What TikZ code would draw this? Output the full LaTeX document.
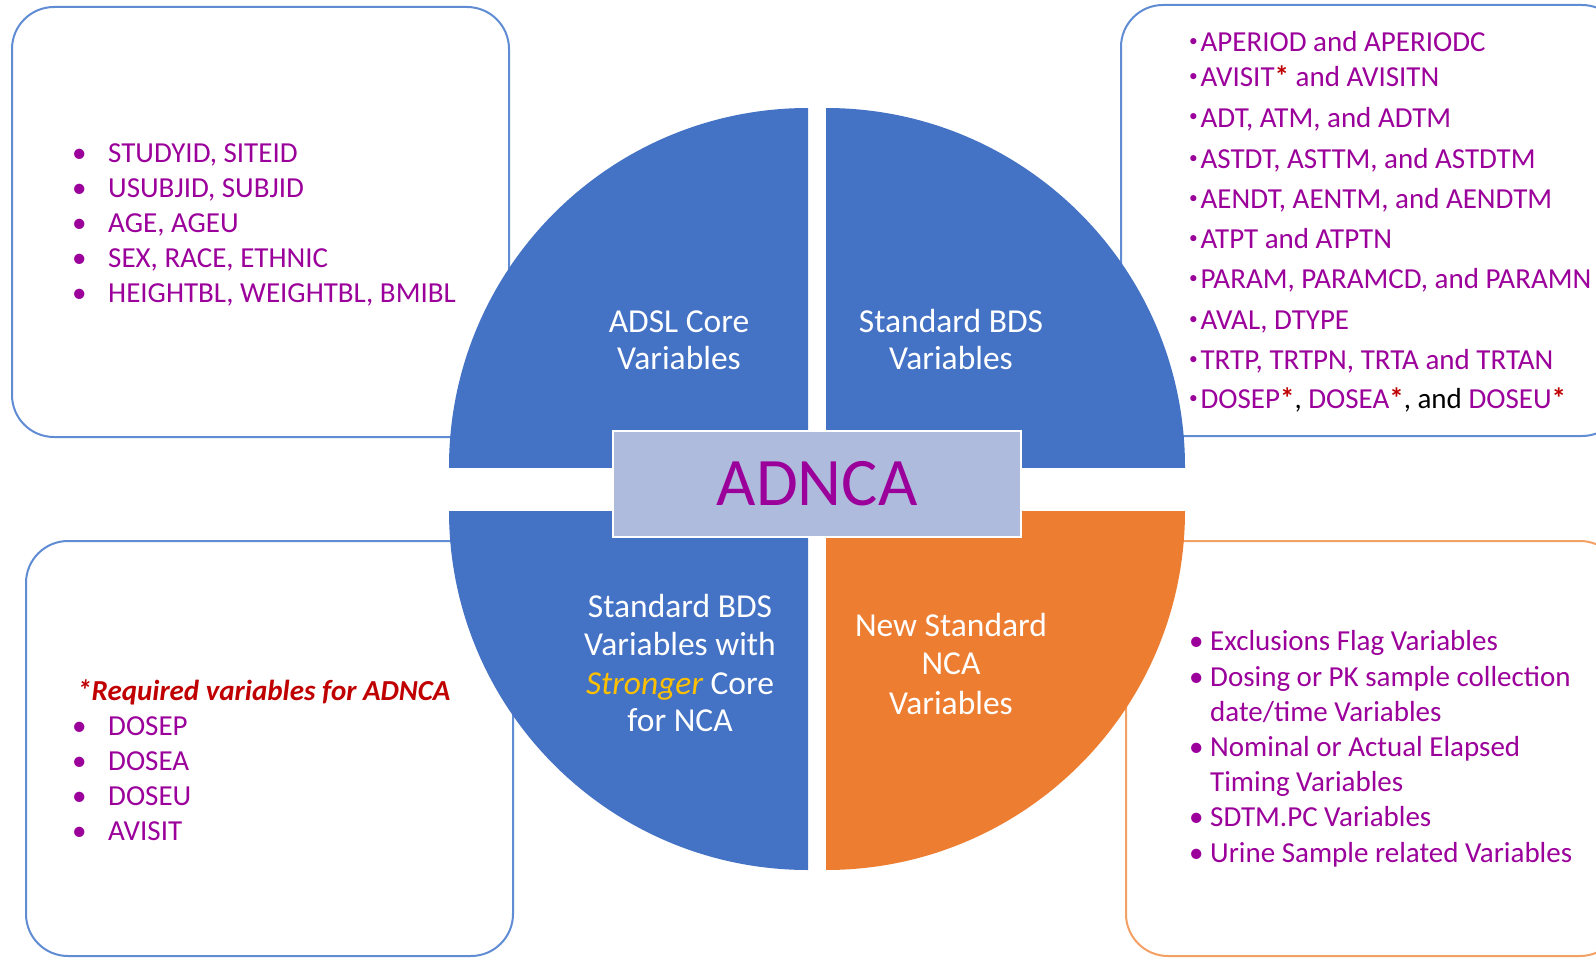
\documentclass[tikz,border=0pt]{standalone}
\usepackage{fontspec}
\usepackage{graphicx}
\setmainfont{Carlito}
\definecolor{qblue}{RGB}{68,114,196}
\definecolor{qorange}{RGB}{237,125,49}
\definecolor{lineblue}{RGB}{96,140,212}
\definecolor{lineorange}{RGB}{243,160,100}
\definecolor{varpurple}{RGB}{155,0,155}
\definecolor{reqred}{RGB}{192,0,0}
\definecolor{strongyellow}{RGB}{255,192,0}
\definecolor{hubfill}{RGB}{175,187,221}
\newcommand{\bul}{\makebox[36pt][l]{\textbullet}}
\newcommand{\sbul}{\makebox[21pt][l]{\textbullet}}
\newcommand{\tbul}{\makebox[14.4pt][c]{\raisebox{5pt}{\scalebox{0.6}{\textbullet}}}}
\newcommand{\sind}{\hspace*{21pt}}
\newcommand{\req}{\textcolor{reqred}{\textbf{*}}}
\begin{document}
\begin{tikzpicture}[x=1pt,y=-1pt,
  panel/.style={line width=2pt, rounded corners=42pt, fill=white},
  item/.style={anchor=base west, inner sep=0pt, text=varpurple,
    font=\fontsize{29}{35}\selectfont},
  qlabel/.style={anchor=base, inner sep=0pt, text=white,
    font=\fontsize{33.5}{37}\selectfont},
]
\useasboundingbox (0,0) rectangle (1596,958);

% side panels
\draw[panel, draw=lineblue]   (12,7)    rectangle (509,437);
\draw[panel, draw=lineblue]   (1121,5)  rectangle (1624,436);
\draw[panel, draw=lineblue]   (26,541)  rectangle (513,956);
\draw[panel, draw=lineorange] (1126,541) rectangle (1622,956);

% four quarter discs
\begin{scope}
  \clip (449,100) rectangle (808,467);
  \fill[qblue] (808,467) circle (359);
\end{scope}
\begin{scope}
  \clip (826,100) rectangle (1190,467);
  \fill[qblue] (826,467) circle (359);
\end{scope}
\begin{scope}
  \clip (440,511) rectangle (808,880);
  \fill[qblue] (808,511) circle (359);
\end{scope}
\begin{scope}
  \clip (826,511) rectangle (1190,880);
  \fill[qorange] (826,511) circle (359);
\end{scope}

% central label
\node[draw=white, line width=2pt, fill=hubfill, minimum width=408pt,
  minimum height=106pt, inner sep=0pt, text=varpurple,
  font=\fontsize{68}{72}\selectfont] (hub) at (817,484) {ADNCA};

% quadrant titles
\node[qlabel] (tla) at (679,332) {ADSL Core};
\node[qlabel] (tlb) at (679,369) {Variables};
\node[qlabel] (tra) at (951,332) {Standard BDS};
\node[qlabel] (trb) at (951,369) {Variables};
\node[qlabel] (bla) at (680,617) {Standard BDS};
\node[qlabel] (blb) at (680,655) {Variables with};
\node[qlabel] (blc) at (680,694) {\textcolor{strongyellow}{\itshape Stronger} Core};
\node[qlabel] (bld) at (680,731) {for NCA};
\node[qlabel] (bra) at (951,636) {New Standard};
\node[qlabel] (brb) at (951,674) {NCA};
\node[qlabel] (brc) at (951,714) {Variables};

% ADSL variables
\node[item] (adsl1) at (72,162) {\bul STUDYID, SITEID};
\node[item] (adsl2) at (72,197) {\bul USUBJID, SUBJID};
\node[item] (adsl3) at (72,232) {\bul AGE, AGEU};
\node[item] (adsl4) at (72,267) {\bul SEX, RACE, ETHNIC};
\node[item] (adsl5) at (72,302) {\bul HEIGHTBL, WEIGHTBL, BMIBL};

% BDS variables
\node[item] (bds1)  at (1186,52)  {\tbul APERIOD and APERIODC};
\node[item] (bds2)  at (1186,87)  {\tbul AVISIT\req{} and AVISITN};
\node[item] (bds3)  at (1186,127) {\tbul ADT, ATM, and ADTM};
\node[item] (bds4)  at (1186,168) {\tbul ASTDT, ASTTM, and ASTDTM};
\node[item] (bds5)  at (1186,208) {\tbul AENDT, AENTM, and AENDTM};
\node[item] (bds6)  at (1186,248) {\tbul ATPT and ATPTN};
\node[item] (bds7)  at (1186,288) {\tbul PARAM, PARAMCD, and PARAMN};
\node[item] (bds8)  at (1186,329) {\tbul AVAL, DTYPE};
\node[item] (bds9)  at (1186,369) {\tbul TRTP, TRTPN, TRTA and TRTAN};
\node[item] (bds10) at (1186,408) {\tbul DOSEP\req\textcolor{black}{, }DOSEA\req\textcolor{black}{, and }DOSEU\req};

% required variables
\node[item, text=reqred, font=\fontsize{29}{35}\selectfont\bfseries\itshape]
  (req0) at (77,700) {*Required variables for ADNCA};
\node[item] (req1) at (72,735) {\bul DOSEP};
\node[item] (req2) at (72,770) {\bul DOSEA};
\node[item] (req3) at (72,805) {\bul DOSEU};
\node[item] (req4) at (72,840) {\bul AVISIT};

% NCA variables
\node[item] (nca1) at (1189,650) {\sbul Exclusions Flag Variables};
\node[item] (nca2) at (1189,686) {\sbul Dosing or PK sample collection};
\node[item] (nca3) at (1189,721) {\sind date/time Variables};
\node[item] (nca4) at (1189,756) {\sbul Nominal or Actual Elapsed};
\node[item] (nca5) at (1189,791) {\sind Timing Variables};
\node[item] (nca6) at (1189,826) {\sbul SDTM.PC Variables};
\node[item] (nca7) at (1189,862) {\sbul Urine Sample related Variables};
\end{tikzpicture}
\end{document}
